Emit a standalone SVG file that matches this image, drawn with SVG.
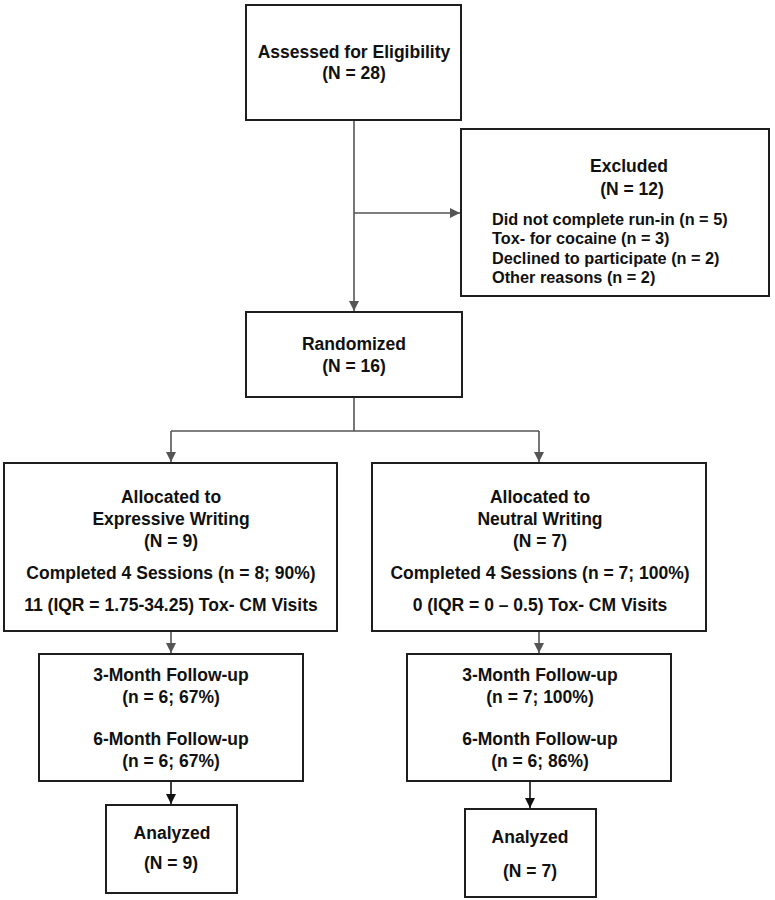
<svg xmlns="http://www.w3.org/2000/svg" width="775" height="900" viewBox="0 0 775 900">
<defs>
<style>
.box{fill:#fff;stroke:#1e1e1e;stroke-width:2}
.t{font-family:"Liberation Sans",Arial,sans-serif;font-weight:bold;font-size:17.5px;fill:#111;text-anchor:middle}
.l{font-family:"Liberation Sans",Arial,sans-serif;font-weight:bold;font-size:16.3px;fill:#111}
.c{fill:none;stroke:#555;stroke-width:1.6}
.k{fill:none;stroke:#111;stroke-width:1.6}
</style>
<marker id="ag" markerWidth="10" markerHeight="10" refX="10" refY="5" orient="auto" markerUnits="userSpaceOnUse"><path d="M0,0 L10,5 L0,10 Z" fill="#555"/></marker>
<marker id="ak" markerWidth="10" markerHeight="10" refX="10" refY="5" orient="auto" markerUnits="userSpaceOnUse"><path d="M0,0 L10,5 L0,10 Z" fill="#111"/></marker>
</defs>
<rect width="775" height="900" fill="#fff"/>
<g id="connectors">
<path class="c" d="M354,120 V311" marker-end="url(#ag)"/>
<path class="c" d="M354,213 H460" marker-end="url(#ag)"/>
<path class="c" d="M354,397 V431"/>
<path class="c" d="M171,431 H539"/>
<path class="c" d="M171,431 V462" marker-end="url(#ag)"/>
<path class="c" d="M539,431 V462" marker-end="url(#ag)"/>
<path class="c" d="M171,631 V653" marker-end="url(#ag)"/>
<path class="c" d="M539,631 V653" marker-end="url(#ag)"/>
<path class="k" d="M171,781 V804" marker-end="url(#ak)"/>
<path class="k" d="M530,782 V808" marker-end="url(#ak)"/>
</g>
<g id="assessed">
<rect class="box" x="246" y="5" width="215" height="115"/>
<text class="t" x="354" y="58">Assessed for Eligibility</text>
<text class="t" x="354" y="79">(N = 28)</text>
</g>
<g id="excluded">
<rect class="box" x="461" y="129" width="308" height="167"/>
<text class="t" x="629" y="172">Excluded</text>
<text class="t" x="632" y="195">(N = 12)</text>
<text class="l" x="492" y="225">Did not complete run-in (n = 5)</text>
<text class="l" x="492" y="244">Tox- for cocaine (n = 3)</text>
<text class="l" x="492" y="264">Declined to participate (n = 2)</text>
<text class="l" x="492" y="283">Other reasons (n = 2)</text>
</g>
<g id="randomized">
<rect class="box" x="246" y="312" width="216" height="85"/>
<text class="t" x="354" y="350">Randomized</text>
<text class="t" x="354" y="372">(N = 16)</text>
</g>
<g id="alloc-expressive">
<rect class="box" x="4" y="463" width="333" height="168"/>
<text class="t" x="171" y="503">Allocated to</text>
<text class="t" x="171" y="525">Expressive Writing</text>
<text class="t" x="171" y="547">(N = 9)</text>
<text class="t" x="171" y="579">Completed 4 Sessions (n = 8; 90%)</text>
<text class="t" x="171" y="611">11 (IQR = 1.75-34.25) Tox- CM Visits</text>
</g>
<g id="alloc-neutral">
<rect class="box" x="372" y="463" width="334" height="168"/>
<text class="t" x="540" y="503">Allocated to</text>
<text class="t" x="540" y="525">Neutral Writing</text>
<text class="t" x="540" y="547">(N = 7)</text>
<text class="t" x="540" y="579">Completed 4 Sessions (n = 7; 100%)</text>
<text class="t" x="540" y="611">0 (IQR = 0 – 0.5) Tox- CM Visits</text>
</g>
<g id="followup-expressive">
<rect class="box" x="39" y="654" width="264" height="127"/>
<text class="t" x="171" y="681">3-Month Follow-up</text>
<text class="t" x="171" y="703">(n = 6; 67%)</text>
<text class="t" x="171" y="745">6-Month Follow-up</text>
<text class="t" x="171" y="767">(n = 6; 67%)</text>
</g>
<g id="followup-neutral">
<rect class="box" x="407" y="654" width="264" height="127"/>
<text class="t" x="540" y="681">3-Month Follow-up</text>
<text class="t" x="540" y="703">(n = 7; 100%)</text>
<text class="t" x="540" y="745">6-Month Follow-up</text>
<text class="t" x="540" y="767">(n = 6; 86%)</text>
</g>
<g id="analyzed-expressive">
<rect class="box" x="106" y="805" width="131" height="88"/>
<text class="t" x="172" y="839">Analyzed</text>
<text class="t" x="171" y="869">(N = 9)</text>
</g>
<g id="analyzed-neutral">
<rect class="box" x="465" y="809" width="131" height="88"/>
<text class="t" x="530" y="843">Analyzed</text>
<text class="t" x="530" y="877">(N = 7)</text>
</g>
</svg>
